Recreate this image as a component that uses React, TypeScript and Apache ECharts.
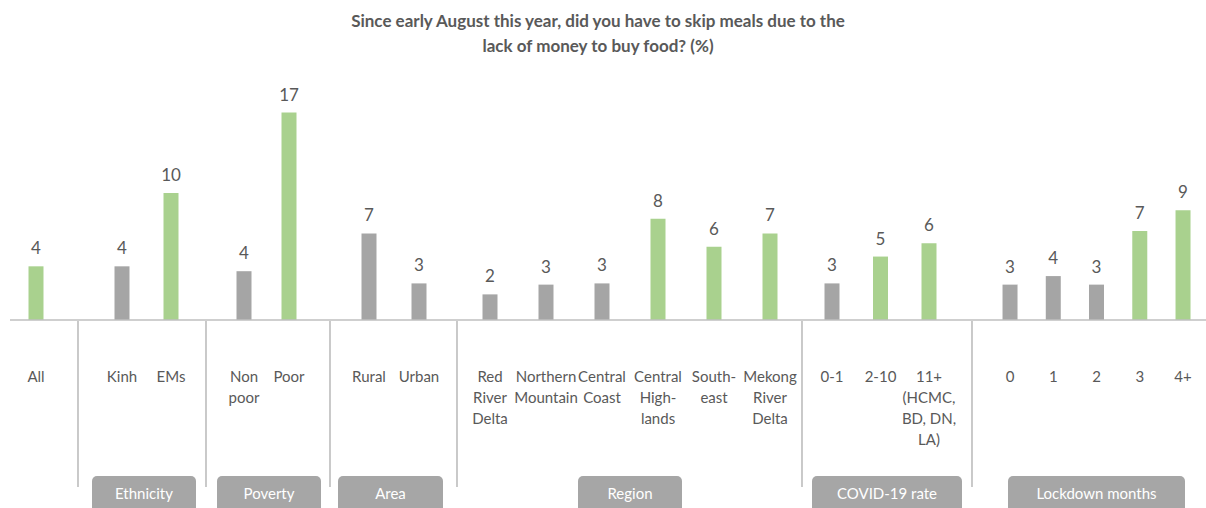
import React, { useEffect, useRef } from "react";
import * as echarts from "echarts";

const GREEN = "#A9D18E";
const GRAY = "#A5A5A5";
const TEXT = "#595959";
const FONT = "Lato, 'Noto Sans', sans-serif";

const titleLines = [
  "Since early August this year, did you have to skip meals due to the",
  "lack of money to buy food? (%)",
];

// groups
const groupNames = ["", "Ethnicity", "Poverty", "Area", "Region", "COVID-19 rate", "Lockdown months"];
const groupCategories: string[][] = [
  ["All"],
  ["Kinh", "EMs"],
  ["Non\npoor", "Poor"],
  ["Rural", "Urban"],
  ["Red\nRiver\nDelta", "Northern\nMountain", "Central\nCoast", "Central\nHigh-\nlands", "South-\neast", "Mekong\nRiver\nDelta"],
  ["0-1", "2-10", "11+\n(HCMC,\nBD, DN,\nLA)"],
  ["0", "1", "2", "3", "4+"],
];
const groupValues: number[][] = [
  [4.4],
  [4.4, 10.4],
  [4.0, 17.0],
  [7.1, 3.0],
  [2.1, 2.9, 3.0, 8.3, 6.0, 7.1],
  [3.0, 5.2, 6.3],
  [2.9, 3.6, 2.9, 7.3, 9.0],
];
const groupHighlight: boolean[][] = [
  [true],
  [false, true],
  [false, true],
  [false, false],
  [false, false, false, true, true, true],
  [false, true, true],
  [false, false, false, true, true],
];

// layout (pixels)
const W = 1206;
const H = 508;
const gridLayout = [
  { left: 11, width: 50 },
  { left: 97.5, width: 98 },
  { left: 221.5, width: 90 },
  { left: 344, width: 100 },
  { left: 462, width: 336 },
  { left: 807.75, width: 145.5 },
  { left: 988.4, width: 216.25 },
];
const separators = [78, 206, 330, 457, 802, 972];
const boxes = [
  null,
  { x: 92, w: 104 },
  { x: 217, w: 104 },
  { x: 338, w: 105 },
  { x: 578, w: 104 },
  { x: 812, w: 150 },
  { x: 1008, w: 177 },
];
const BASE_Y = 320;
const GRID_TOP = 76;

export default function App() {
  const ref = useRef<HTMLDivElement>(null);
  useEffect(() => {
    if (!ref.current) return;
    const chart = echarts.init(ref.current, undefined, { renderer: "svg" });
    const grids: any[] = [];
    const xAxes: any[] = [];
    const yAxes: any[] = [];
    const series: any[] = [];
    groupCategories.forEach((cats, i) => {
      grids.push({
        left: gridLayout[i].left,
        width: gridLayout[i].width,
        top: GRID_TOP,
        bottom: H - BASE_Y,
        containLabel: false,
      });
      xAxes.push({
        type: "category",
        gridIndex: i,
        data: cats,
        axisLine: { show: false },
        axisTick: { show: false },
        axisLabel: {
          interval: 0,
          margin: 45,
          color: TEXT,
          fontSize: 15,
          lineHeight: 21,
          fontFamily: FONT,
          verticalAlign: "top",
        },
      });
      yAxes.push({
        type: "value",
        gridIndex: i,
        min: 0,
        max: 20,
        show: false,
        splitLine: { show: false },
      });
      series.push({
        type: "bar",
        xAxisIndex: i,
        yAxisIndex: i,
        barWidth: 15,
        data: groupValues[i].map((v, j) => ({
          value: v,
          itemStyle: { color: groupHighlight[i][j] ? GREEN : GRAY },
        })),
        label: {
          show: true,
          position: "top",
          distance: 10,
          color: TEXT,
          fontSize: 17,
          fontFamily: FONT,
          formatter: (p: any) => String(Math.round(p.value)),
        },
      });
    });

    const graphic: any[] = [
      {
        type: "line",
        shape: { x1: 10, y1: BASE_Y, x2: W, y2: BASE_Y },
        style: { stroke: "#BFBFBF", lineWidth: 1.5 },
        z: 10,
      },
      ...separators.map((x) => ({
        type: "line",
        shape: { x1: x, y1: BASE_Y + 1, x2: x, y2: 487 },
        style: { stroke: "#A6A6A6", lineWidth: 1.2 },
      })),
    ];
    boxes.forEach((b, i) => {
      if (!b) return;
      graphic.push({
        type: "rect",
        shape: { x: b.x, y: 476, width: b.w, height: 40, r: 5 },
        style: { fill: "#A6A6A6" },
      });
      graphic.push({
        type: "text",
        x: b.x + b.w / 2,
        y: 493,
        style: {
          text: groupNames[i],
          fill: "#FFFFFF",
          fontSize: 15,
          fontFamily: FONT,
          align: "center",
          verticalAlign: "middle",
        },
      });
    });

    chart.setOption({
      animation: false,
      title: {
        text: titleLines.join("\n"),
        left: 598,
        top: 8,
        padding: 0,
        textAlign: "center",
        textStyle: {
          color: TEXT,
          fontSize: 17,
          fontWeight: "bold",
          lineHeight: 25,
          fontFamily: FONT,
        },
      },
      grid: grids,
      xAxis: xAxes,
      yAxis: yAxes,
      series,
      graphic,
    });
    return () => chart.dispose();
  }, []);
  return (
    <div
      ref={ref}
      style={{ position: "absolute", left: 0, top: 0, width: W, height: H, background: "#fff" }}
    />
  );
}
